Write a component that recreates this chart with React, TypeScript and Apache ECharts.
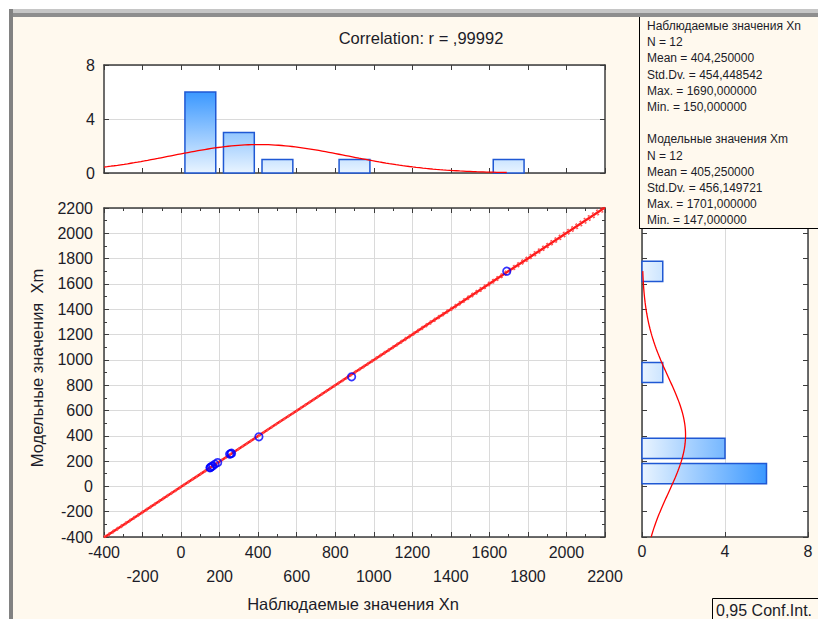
import React, { useEffect, useRef } from "react";
import * as echarts from "echarts";

// ---- data ----
const observedXn = [150, 152, 158, 165, 176, 190, 252, 258, 262, 404, 885, 1690];
const modelXm = [147, 150, 158, 162, 176, 188, 255, 258, 262, 392, 866, 1701];

// descriptive statistics printed in the box: N, Mean, Std.Dv., Max, Min
const statNames = ["N", "Mean", "Std.Dv.", "Max.", "Min."];
const statsXn = [12, 404.25, 454.448542, 1690, 150];
const statsXm = [12, 405.25, 456.149721, 1701, 147];
const seriesNames = ["Наблюдаемые значения Xn", "Модельные значения Xm"];
const correlationR = 0.99992;

// axes
const scatterMin = -400;
const scatterMax = 2200;
const scatterStep = 200;
const binWidth = 200;
const countMax = 8;
const countStep = 4;
const confLevel = 0.95;
const tCrit = 2.228; // t(0.975, df = 10)

const FONT = '"Liberation Sans", Arial, sans-serif';
const CREAM = "#fff9ee";
const TXT = "#1c1c28";
const AX = "#3c3c3c";

function binCounts(values: number[]) {
  const map = new Map<number, number>();
  values.forEach((v) => {
    const b = Math.floor(v / binWidth);
    map.set(b, (map.get(b) || 0) + 1);
  });
  return Array.from(map.entries())
    .sort((a, b) => a[0] - b[0])
    .map(([b, c]) => [b * binWidth, (b + 1) * binWidth, c]);
}

function normalCurve(stats: number[], from: number, to: number, steps: number) {
  const [n, mean, sd] = stats;
  const pts: number[][] = [];
  for (let i = 0; i <= steps; i++) {
    const x = from + ((to - from) * i) / steps;
    const z = (x - mean) / sd;
    const d = (n * binWidth * Math.exp(-0.5 * z * z)) / (sd * Math.sqrt(2 * Math.PI));
    pts.push([x, d]);
  }
  return pts;
}

function fmt(v: number, i: number) {
  if (i === 0) return String(v);
  return v.toFixed(6).replace(".", ",");
}

export default function App() {
  const ref = useRef<HTMLDivElement>(null);

  useEffect(() => {
    if (!ref.current) return;
    const chart = echarts.init(ref.current, undefined, { renderer: "svg" });

    // regression and confidence band
    const n = observedXn.length;
    const mx = observedXn.reduce((a, b) => a + b, 0) / n;
    const my = modelXm.reduce((a, b) => a + b, 0) / n;
    let sxx = 0,
      sxy = 0;
    for (let i = 0; i < n; i++) {
      sxx += (observedXn[i] - mx) ** 2;
      sxy += (observedXn[i] - mx) * (modelXm[i] - my);
    }
    const slope = sxy / sxx;
    const icpt = my - slope * mx;
    let sse = 0;
    for (let i = 0; i < n; i++) sse += (modelXm[i] - (icpt + slope * observedXn[i])) ** 2;
    const s = Math.sqrt(sse / (n - 2));
    const regLine: number[][] = [];
    const upper: number[][] = [];
    const lower: number[][] = [];
    for (let k = 0; k <= 26; k++) {
      const x = scatterMin + ((scatterMax - scatterMin) * k) / 26;
      const yhat = icpt + slope * x;
      const half = tCrit * s * Math.sqrt(1 / n + (x - mx) ** 2 / sxx);
      regLine.push([x, yhat]);
      upper.push([x, yhat + half]);
      lower.push([x, yhat - half]);
    }

    const topBins = binCounts(observedXn);
    const rightBins = binCounts(modelXm);
    const topCurve = normalCurve(statsXn, scatterMin, statsXn[3], 120);
    const rightCurve = normalCurve(statsXm, scatterMin, statsXm[3], 120).map((p) => [p[1], p[0]]);
    const gap = binWidth * 0.1;

    const axLine = { show: true, onZero: false, lineStyle: { color: AX, width: 1.5 } };
    const tick = { show: true, inside: true, length: 5, lineStyle: { color: AX, width: 1 } };
    const minor = { show: true, splitNumber: 2, length: 3, lineStyle: { color: AX, width: 1 } };
    const label = { color: TXT, fontSize: 16, fontFamily: FONT, formatter: (v: number) => String(v) };
    const noLabel = { show: false };
    const split = { show: true, lineStyle: { color: "#dadada", width: 1 } };
    const noSplit = { show: false };

    const sxAxis = (extra: any) => ({
      type: "value",
      min: scatterMin,
      max: scatterMax,
      interval: scatterStep,
      axisLine: axLine,
      axisTick: tick,
      splitLine: noSplit,
      axisLabel: noLabel,
      ...extra,
    });
    const cAxis = (extra: any) => ({
      type: "value",
      min: 0,
      max: countMax,
      interval: countStep,
      axisLine: axLine,
      axisTick: tick,
      splitLine: noSplit,
      axisLabel: noLabel,
      ...extra,
    });

    const statLines = (name: string, vals: number[]) => [
      name,
      ...vals.map((v, i) => `${statNames[i]} = ${fmt(v, i)}`),
    ];
    const boxLines = [...statLines(seriesNames[0], statsXn), "", ...statLines(seriesNames[1], statsXm)];

    const option: any = {
      animation: false,
      backgroundColor: CREAM,
      grid: [
        { left: 104, top: 65, width: 501, height: 108, show: true, backgroundColor: "#fff", borderWidth: 0 },
        { left: 104, top: 208, width: 501, height: 329, show: true, backgroundColor: "#fff", borderWidth: 0 },
        { left: 642, top: 208, width: 166, height: 329, show: true, backgroundColor: "#fff", borderWidth: 0 },
      ],
      xAxis: [
        sxAxis({ gridIndex: 0, position: "bottom" }),
        sxAxis({ gridIndex: 0, position: "top" }),
        sxAxis({
          gridIndex: 1,
          position: "bottom",
          splitLine: split,
          minorTick: minor,
          axisLabel: {
            ...label,
            margin: 3,
            lineHeight: 24,
            formatter: (v: number) => {
              const k = Math.round((v - scatterMin) / scatterStep);
              return k % 2 === 0 ? String(v) : "\n" + v;
            },
          },
        }),
        sxAxis({ gridIndex: 1, position: "top", minorTick: minor }),
        cAxis({ gridIndex: 2, position: "bottom", splitLine: split, axisLabel: { ...label, margin: 6 } }),
        cAxis({ gridIndex: 2, position: "top" }),
      ],
      yAxis: [
        cAxis({ gridIndex: 0, position: "left", splitLine: split, axisLabel: { ...label, margin: 9 } }),
        cAxis({ gridIndex: 0, position: "right" }),
        sxAxis({ gridIndex: 1, position: "left", splitLine: split, minorTick: minor, axisLabel: { ...label, margin: 11 } }),
        sxAxis({ gridIndex: 1, position: "right", minorTick: minor }),
        sxAxis({ gridIndex: 2, position: "left" }),
        sxAxis({ gridIndex: 2, position: "right" }),
      ],
      series: [
        {
          type: "custom",
          xAxisIndex: 0,
          yAxisIndex: 0,
          data: topBins,
          encode: { x: [0, 1], y: 2 },
          renderItem: (params: any, api: any) => {
            const lo = api.value(0);
            const hi = api.value(1);
            const c = api.value(2);
            const a = api.coord([lo + gap, c]);
            const b = api.coord([hi - gap, 0]);
            const yFull = api.coord([0, 6])[1];
            const yBase = api.coord([0, 0])[1];
            return {
              type: "rect",
              shape: { x: a[0], y: a[1], width: b[0] - a[0], height: b[1] - a[1] },
              style: {
                fill: new echarts.graphic.LinearGradient(
                  0, yFull, 0, yBase,
                  [
                    { offset: 0, color: "#3b98ff" },
                    { offset: 1, color: "#e9f4ff" },
                  ],
                  true
                ),
                stroke: "#1f58d4",
                lineWidth: 1.5,
              },
            };
          },
          z: 2,
        },
        {
          type: "line",
          xAxisIndex: 0,
          yAxisIndex: 0,
          data: topCurve,
          showSymbol: false,
          symbol: "none",
          lineStyle: { color: "#ff0000", width: 1.3 },
          z: 3,
        },
        {
          type: "custom",
          xAxisIndex: 4,
          yAxisIndex: 4,
          data: rightBins,
          encode: { y: [0, 1], x: 2 },
          renderItem: (params: any, api: any) => {
            const lo = api.value(0);
            const hi = api.value(1);
            const c = api.value(2);
            const a = api.coord([0, hi - gap]);
            const b = api.coord([c, lo + gap]);
            const xBase = api.coord([0, 0])[0];
            const xFull = api.coord([6, 0])[0];
            return {
              type: "rect",
              shape: { x: a[0], y: a[1], width: b[0] - a[0], height: b[1] - a[1] },
              style: {
                fill: new echarts.graphic.LinearGradient(
                  xBase, 0, xFull, 0,
                  [
                    { offset: 0, color: "#e9f4ff" },
                    { offset: 1, color: "#3b98ff" },
                  ],
                  true
                ),
                stroke: "#1f58d4",
                lineWidth: 1.5,
              },
            };
          },
          z: 2,
        },
        {
          type: "line",
          xAxisIndex: 4,
          yAxisIndex: 4,
          data: rightCurve,
          showSymbol: false,
          symbol: "none",
          lineStyle: { color: "#ff0000", width: 1.3 },
          z: 3,
        },
        {
          type: "line",
          xAxisIndex: 2,
          yAxisIndex: 2,
          data: regLine,
          showSymbol: false,
          symbol: "none",
          lineStyle: { color: "#ff1a1a", width: 2.4 },
          z: 3,
        },
        {
          type: "line",
          xAxisIndex: 2,
          yAxisIndex: 2,
          data: upper,
          showSymbol: false,
          symbol: "none",
          lineStyle: { color: "#ff5050", width: 1.4, type: [2, 3] },
          z: 3,
        },
        {
          type: "line",
          xAxisIndex: 2,
          yAxisIndex: 2,
          data: lower,
          showSymbol: false,
          symbol: "none",
          lineStyle: { color: "#ff5050", width: 1.4, type: [2, 3] },
          z: 3,
        },
        {
          type: "scatter",
          xAxisIndex: 2,
          yAxisIndex: 2,
          data: observedXn.map((x, i) => [x, modelXm[i]]),
          symbol: "circle",
          symbolSize: 7.5,
          itemStyle: { color: "rgba(255,255,255,0)", borderColor: "#0000ff", borderWidth: 1.7 },
          z: 5,
        },
      ],
      graphic: [
        { type: "rect", shape: { x: 0, y: 0, width: 818, height: 9 }, style: { fill: "#fff" }, silent: true },
        { type: "rect", shape: { x: 0, y: 0, width: 9, height: 619 }, style: { fill: "#fff" }, silent: true },
        { type: "rect", shape: { x: 9, y: 9, width: 809, height: 4 }, style: { fill: "#c6c6c6" }, silent: true },
        { type: "rect", shape: { x: 9, y: 13, width: 809, height: 4 }, style: { fill: "#8e8e8e" }, silent: true },
        { type: "rect", shape: { x: 9, y: 9, width: 4, height: 610 }, style: { fill: "#828282" }, silent: true },
        {
          type: "text",
          x: 421,
          y: 38,
          style: { text: `Correlation: r = ${correlationR.toFixed(5).replace("0.", ",")}`, fill: TXT, fontSize: 16.5, fontFamily: FONT, align: "center", verticalAlign: "middle" },
        },
        {
          type: "text",
          x: 353,
          y: 604,
          style: { text: "Наблюдаемые значения Xn", fill: TXT, fontSize: 16.5, fontFamily: FONT, align: "center", verticalAlign: "middle" },
        },
        {
          type: "text",
          x: 37,
          y: 368,
          rotation: Math.PI / 2,
          style: { text: "Модельные значения  Xm", fill: TXT, fontSize: 16.5, fontFamily: FONT, align: "center", verticalAlign: "middle" },
        },
        { type: "rect", z: 100, shape: { x: 639, y: 17, width: 190, height: 211 }, style: { fill: CREAM } },
        { type: "line", z: 101, shape: { x1: 639.5, y1: 17, x2: 639.5, y2: 228.5 }, style: { stroke: "#000", lineWidth: 1 } },
        { type: "line", z: 101, shape: { x1: 639, y1: 228.5, x2: 818, y2: 228.5 }, style: { stroke: "#000", lineWidth: 1 } },
        ...boxLines.map((t, i) => ({
          type: "text",
          z: 102,
          x: 647,
          y: 26 + i * 16.2,
          style: { text: t, fill: TXT, fontSize: 12, fontFamily: FONT, align: "left", verticalAlign: "middle" },
        })),
        { type: "rect", z: 100, shape: { x: 712.5, y: 598.5, width: 120, height: 30 }, style: { fill: CREAM, stroke: "#000", lineWidth: 1 } },
        {
          type: "text",
          z: 101,
          x: 716,
          y: 610,
          style: { text: `${String(confLevel).replace(".", ",")} Conf.Int.`, fill: TXT, fontSize: 16, fontFamily: FONT, align: "left", verticalAlign: "middle" },
        },
      ],
    };

    chart.setOption(option);
    return () => chart.dispose();
  }, []);

  return <div ref={ref} style={{ position: "fixed", left: 0, top: 0, width: 818, height: 619 }} />;
}
